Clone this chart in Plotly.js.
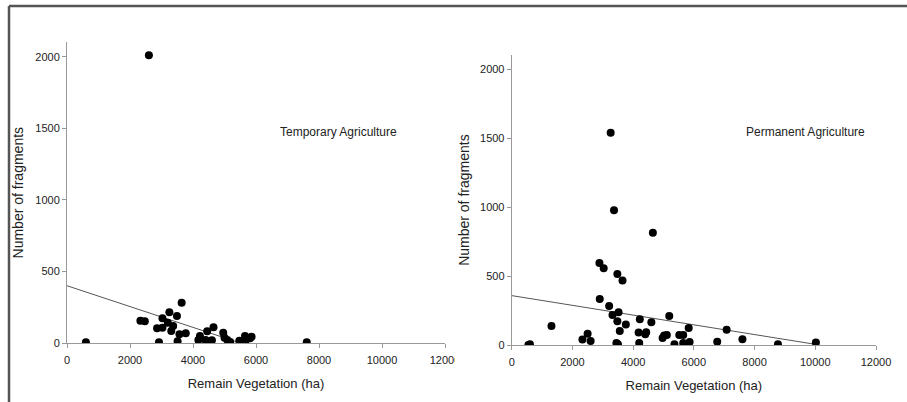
<!DOCTYPE html>
<html>
<head>
<meta charset="utf-8">
<script src="https://cdn.plot.ly/plotly-3.0.1.min.js"></script>
<style>html,body{margin:0;padding:0;background:#fff;}#chart{width:907px;height:402px;}</style>
</head>
<body>
<div id="chart"></div>
<script>
// Temporary Agriculture (left panel)
const tempX = [600, 2600, 2330, 2470, 2860, 2920, 3030, 3030, 3200, 3250, 3370, 3310, 3490, 3510, 3570, 3640, 3770, 4170, 4220, 4400, 4450, 4420, 4600, 4650, 4960, 5000, 5090, 5180, 5470, 5650, 5670, 5810, 5860, 7610];
const tempY = [5, 2010, 156, 152, 103, 5, 173, 107, 142, 215, 119, 84, 189, 12, 61, 282, 68, 21, 49, 21, 82, 5, 19, 110, 72, 37, 21, 7, 16, 49, 16, 33, 44, 5];
const tempTrendX = [0, 5500];
const tempTrendY = [400, 0];

// Permanent Agriculture (right panel)
const permX = [550, 600, 1310, 2330, 2500, 2600, 2890, 3030, 2900, 3210, 3260, 3370, 3320, 3480, 3650, 3520, 3480, 3560, 3450, 3500, 3760, 4180, 4220, 4200, 4400, 4430, 4600, 4650, 4970, 5020, 5110, 5190, 5360, 5520, 5650, 5650, 5830, 5860, 6770, 7080, 7600, 8770, 10020];
const permY = [0, 5, 138, 39, 82, 29, 595, 556, 334, 283, 1538, 977, 218, 515, 467, 237, 172, 102, 15, 5, 148, 90, 186, 15, 77, 92, 164, 813, 51, 68, 73, 210, 5, 73, 73, 15, 123, 22, 24, 111, 41, 5, 18];
const permTrendX = [0, 10000];
const permTrendY = [358, 5];

const xTitle = "Remain Vegetation (ha)";
const yTitle = "Number of fragments";
const panelLabels = ["Temporary Agriculture", "Permanent Agriculture"];

const W = 907, H = 402;
const px = v => v / W;
const py = v => 1 - v / H;

const marker = {color: "#000", size: 8};
const lineStyle = {color: "#555", width: 1};

const traces = [
  {x: tempTrendX, y: tempTrendY, mode: "lines", line: lineStyle, xaxis: "x", yaxis: "y", hoverinfo: "skip"},
  {x: tempX, y: tempY, mode: "markers", marker: marker, xaxis: "x", yaxis: "y"},
  {x: permTrendX, y: permTrendY, mode: "lines", line: lineStyle, xaxis: "x2", yaxis: "y2", hoverinfo: "skip"},
  {x: permX, y: permY, mode: "markers", marker: marker, xaxis: "x2", yaxis: "y2"}
];

const font = {family: "Liberation Sans, Arial, sans-serif", color: "#222"};

function xAxis(domain, anchor) {
  return {
    domain: domain, anchor: anchor, range: [0, 12000], dtick: 2000, tick0: 0, tickformat: "d",
    showgrid: false, zeroline: false, showline: true, linecolor: "#999", linewidth: 1,
    ticks: "outside", ticklen: 4, tickcolor: "#999", ticklabelstandoff: 3,
    tickfont: {family: font.family, size: 11, color: "#222"},
    title: {text: xTitle, font: {family: font.family, size: 13, color: "#222"}, standoff: 13},
    automargin: false, fixedrange: true
  };
}
function yAxis(domain, anchor, standoff) {
  return {
    domain: domain, anchor: anchor, range: [0, 2100], dtick: 500, tick0: 0, tickformat: "d",
    showgrid: false, zeroline: false, showline: true, linecolor: "#999", linewidth: 1,
    ticks: "outside", ticklen: 4, tickcolor: "#999",
    tickfont: {family: font.family, size: 11, color: "#222"},
    title: {text: yTitle, font: {family: font.family, size: 14, color: "#222"}, standoff: standoff},
    automargin: false, fixedrange: true
  };
}

const layout = {
  width: W, height: H,
  margin: {l: 0, r: 0, t: 0, b: 0},
  paper_bgcolor: "#fff", plot_bgcolor: "#fff",
  showlegend: false,
  font: font,
  xaxis: xAxis([px(67), px(445)], "y"),
  yaxis: yAxis([py(343), py(42.4)], "x", 8),
  xaxis2: xAxis([px(511.7), px(876)], "y2"),
  yaxis2: yAxis([py(345), py(55.2)], "x2", 7),
  annotations: [
    {text: panelLabels[0], xref: "paper", yref: "paper", x: px(278), y: py(132), xanchor: "left", yanchor: "middle", showarrow: false, font: {family: font.family, size: 12, color: "#222"}},
    {text: panelLabels[1], xref: "paper", yref: "paper", x: px(744), y: py(132), xanchor: "left", yanchor: "middle", showarrow: false, font: {family: font.family, size: 12, color: "#222"}}
  ],
  shapes: [
    {type: "line", xref: "paper", yref: "paper", x0: px(9), x1: 1, y0: py(6), y1: py(6), line: {color: "#555", width: 2.5}, layer: "above"},
    {type: "line", xref: "paper", yref: "paper", x0: px(9), x1: px(9), y0: 0, y1: py(6), line: {color: "#555", width: 2.5}, layer: "above"},
    {type: "rect", xref: "paper", yref: "paper", x0: px(455), x1: px(478), y0: py(374), y1: py(350), fillcolor: "#fff", line: {width: 0}, layer: "above"}
  ]
};

Plotly.newPlot("chart", traces, layout, {staticPlot: true, displayModeBar: false});
</script>
</body>
</html>
